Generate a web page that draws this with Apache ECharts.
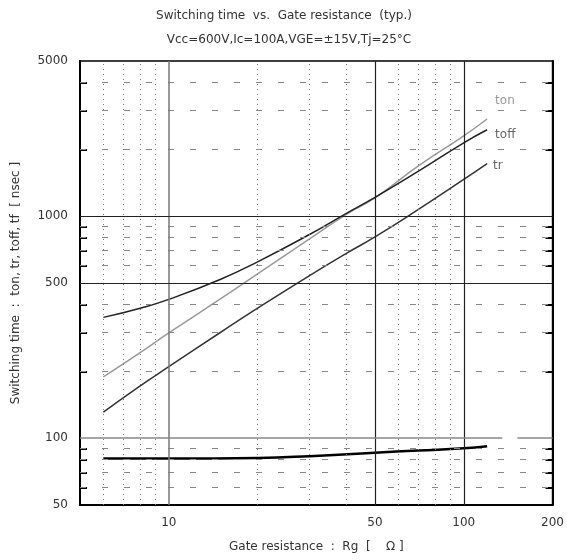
<!DOCTYPE html>
<html>
<head>
<meta charset="utf-8">
<script src="https://cdn.jsdelivr.net/npm/echarts@6/dist/echarts.min.js"></script>
<style>
  html, body { margin: 0; padding: 0; background: #fff; }
  #chart { width: 567px; height: 560px; }
</style>
</head>
<body>
<div id="chart"></div>
<script>
// Gate resistance Rg [ohm] at the read points
var rg = [6, 8, 10, 15, 20, 30, 40, 50, 70, 100, 120];
var ton = [189, 243, 298, 425, 550, 790, 1020, 1210, 1680, 2300, 2740];
var toff = [350, 385, 422, 520, 623, 827, 1030, 1215, 1590, 2140, 2450];
var tr = [131, 172, 210, 300, 385, 540, 680, 806, 1070, 1463, 1724];
var rgLow = [6, 10, 20, 30, 50, 70, 100, 120];
var tLow = [81, 81, 81.5, 83, 86, 88, 90, 92];

var xLabels = [10, 50, 100, 200];
var yLabels = [50, 100, 500, 1000, 5000];
var xMinorGrid = [6, 7, 8, 9, 20, 30, 40, 60, 70, 80, 90];
var yMinorGrid = [60, 70, 80, 90, 200, 300, 400, 600, 700, 800, 900, 2000, 3000, 4000];

function pairs(xs, ys) {
  return xs.map(function (x, i) { return [x, ys[i]]; });
}

var font = "DejaVu Sans, sans-serif";
var chart = echarts.init(document.getElementById("chart"));

var gridLines = [];
xMinorGrid.forEach(function (v) {
  gridLines.push({ xAxis: v, lineStyle: { type: [1, 4], color: "#777", width: 1 } });
});
yMinorGrid.forEach(function (v) {
  gridLines.push({ yAxis: v, lineStyle: { type: [6, 16], color: "#888", width: 1 } });
});
gridLines.push({ xAxis: 10, lineStyle: { type: "solid", color: "#777", width: 1.5 } });
gridLines.push({ xAxis: 50, lineStyle: { type: "solid", color: "#222", width: 1.2 } });
gridLines.push({ xAxis: 100, lineStyle: { type: "solid", color: "#222", width: 1.2 } });
gridLines.push({ yAxis: 1000, lineStyle: { type: "solid", color: "#222", width: 1.2 } });
gridLines.push({ yAxis: 500, lineStyle: { type: "solid", color: "#222", width: 1.2 } });
// the 100 line has a small gap on the right
gridLines.push([{ coord: [5, 100], lineStyle: { type: "solid", color: "#888", width: 1.5 } }, { coord: [135, 100] }]);
gridLines.push([{ coord: [152, 100], lineStyle: { type: "solid", color: "#888", width: 1.5 } }, { coord: [200, 100] }]);

var yAxisBase = {
  type: "log",
  logBase: 10,
  min: 50,
  max: 5000,
  axisLine: { show: true, lineStyle: { color: "#000", width: 2 } },
  splitLine: { show: false },
  minorTick: { show: false },
  axisTick: {
    show: true,
    inside: true,
    length: 7,
    customValues: yMinorGrid,
    lineStyle: { color: "#000", width: 2 }
  }
};

var option = {
  animation: false,
  backgroundColor: "#fff",
  title: [
    {
      text: "Switching time  vs.  Gate resistance  (typ.)",
      left: 279,
      textAlign: "center",
      top: 5,
      textStyle: { fontFamily: font, fontSize: 12, fontWeight: "normal", color: "#333" }
    },
    {
      text: "Vcc=600V,Ic=100A,VGE=\u00b115V,Tj=25\u00b0C",
      left: 284,
      textAlign: "center",
      top: 29,
      textStyle: { fontFamily: font, fontSize: 12, fontWeight: "normal", color: "#333" }
    }
  ],
  grid: {
    left: 80,
    right: 12,
    top: 61,
    bottom: 55,
    show: true,
    borderColor: "#000",
    borderWidth: 1.5
  },
  xAxis: {
    type: "log",
    logBase: 10,
    min: 5,
    max: 200,
    name: "Gate resistance  :  Rg  [    \u03a9 ]",
    nameLocation: "middle",
    nameGap: 36,
    nameTextStyle: { fontFamily: font, fontSize: 12, color: "#333" },
    axisLine: { show: true, lineStyle: { color: "#000", width: 2 } },
    splitLine: { show: false },
    minorTick: { show: false },
    axisTick: { show: false },
    axisLabel: {
      customValues: xLabels,
      margin: 12,
      fontFamily: font,
      fontSize: 12,
      color: "#333"
    }
  },
  yAxis: [
    Object.assign({}, yAxisBase, {
      position: "left",
      name: "Switching time  :  ton, tr, toff, tf  [ nsec ]",
      nameLocation: "middle",
      nameGap: 58,
      nameTextStyle: { fontFamily: font, fontSize: 12, color: "#333" },
      axisLabel: {
        customValues: yLabels,
        formatter: function (v) { return String(Math.round(v)); },
        margin: 12,
        fontFamily: font,
        fontSize: 12,
        color: "#333"
      }
    }),
    Object.assign({}, yAxisBase, {
      position: "right",
      axisLabel: { show: false }
    })
  ],
  series: [
    {
      name: "grid",
      type: "line",
      data: [],
      silent: true,
      markLine: {
        silent: true,
        symbol: "none",
        label: { show: false },
        data: gridLines
      }
    },
    {
      name: "ton",
      type: "line",
      smooth: true,
      symbol: "none",
      lineStyle: { color: "#999", width: 1.5 },
      endLabel: {
        show: true,
        formatter: "ton",
        offset: [0, -18],
        fontFamily: font,
        fontSize: 12,
        color: "#999"
      },
      data: pairs(rg, ton)
    },
    {
      name: "toff",
      type: "line",
      smooth: true,
      symbol: "none",
      lineStyle: { color: "#222", width: 1.5 },
      endLabel: {
        show: true,
        formatter: "toff",
        offset: [0, 5],
        fontFamily: font,
        fontSize: 12,
        color: "#666"
      },
      data: pairs(rg, toff)
    },
    {
      name: "tr",
      type: "line",
      smooth: true,
      symbol: "none",
      lineStyle: { color: "#333", width: 1.5 },
      endLabel: {
        show: true,
        formatter: "tr",
        offset: [-2, 2],
        fontFamily: font,
        fontSize: 12,
        color: "#666"
      },
      data: pairs(rg, tr)
    },
    {
      name: "low",
      type: "line",
      smooth: true,
      symbol: "none",
      lineStyle: { color: "#000", width: 2.5 },
      data: pairs(rgLow, tLow)
    }
  ]
};

chart.setOption(option);
</script>
</body>
</html>
